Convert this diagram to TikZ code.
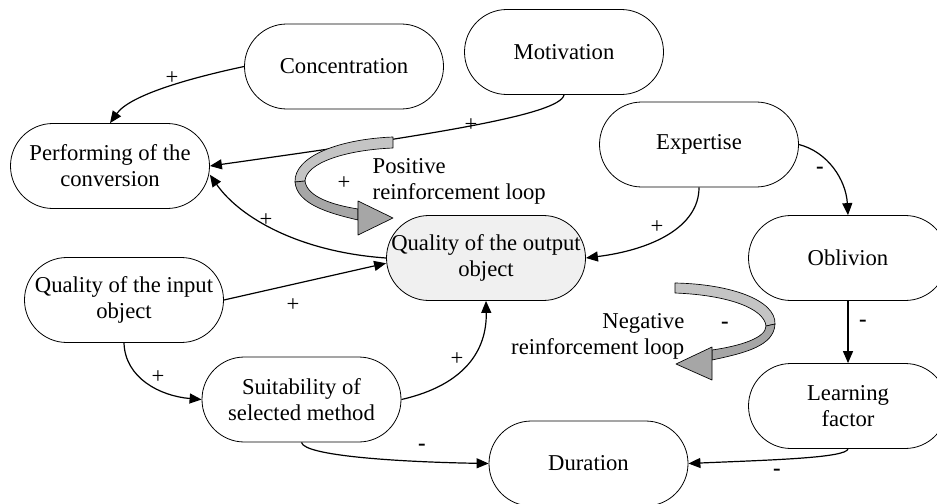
\documentclass[tikz,border=0pt]{standalone}
\usepackage{fontspec}
\setmainfont{Liberation Serif}
\usetikzlibrary{arrows.meta}
\definecolor{ribbonlight}{HTML}{C4C4C4}
\definecolor{ribbondark}{HTML}{A6A6A6}
\begin{document}
\begin{tikzpicture}[x=0.75pt,y=-0.75pt,
  factor/.style={draw,line width=0.6pt,rectangle,rounded corners=31.8pt,
    minimum width=149.25pt,minimum height=63.75pt,inner sep=1pt,align=center,
    font=\fontsize{17}{19.5}\selectfont},
  conn/.style={line width=0.9pt,-{Triangle[length=9pt,width=7.5pt]}},
  sign/.style={font=\fontsize{17}{19.5}\selectfont},
  ribbon/.style={draw,line width=0.5pt,line join=round}]
\useasboundingbox (0,0) rectangle (937,503);
\clip (0,0) rectangle (937,503);
\node[factor] (conc) at (344,66.5) {Concentration};
\node[factor] (motiv) at (564,52) {Motivation};
\node[factor] (perform) at (110,166) {Performing of the\\conversion};
\node[factor] (expert) at (699,144.5) {Expertise};
\node[factor] (oblivion) at (848,258) {Oblivion};
\node[factor,fill=gray!12] (outq) at (486,258) {Quality of the output\\object};
\node[factor] (inq) at (124,300) {Quality of the input\\object};
\node[factor] (suit) at (301.5,399.5) {Suitability of\\selected method};
\node[factor] (learn) at (848,406) {Learning\\factor};
\node[factor] (dur) at (588.5,463.5) {Duration};
\draw[conn] (conc.west) .. controls (190,78) and (130,95) .. (perform.north);
\draw[conn] (motiv.south) .. controls (560,115) and (430,135) .. (perform.east);
\draw[conn,{Triangle[length=9pt,width=7.5pt]}-] (perform.-5) .. controls (240,218) and (300,252) .. (outq.west);
\draw[conn] (inq.east) -- (outq.183);
\draw[conn] (expert.south) .. controls (699,228) and (650,250) .. (outq.east);
\draw[conn] (expert.east) .. controls (828,152) and (846,180) .. (oblivion.north);
\draw[conn] (oblivion.south) -- (learn.north);
\draw[conn] (learn.south) .. controls (846,458) and (770,460) .. (dur.east);
\draw[conn] (suit.south) .. controls (304,456) and (400,462) .. (dur.west);
\draw[conn] (inq.south) .. controls (125,378) and (160,396) .. (suit.west);
\draw[conn] (suit.east) .. controls (465,385) and (487,350) .. (outq.south);
\draw[ribbon,fill=ribbonlight] (393,137) .. controls (340,139) and (294,156) .. (295,182) -- (305,181) .. controls (306,163) and (345,150) .. (393,148) -- cycle;
\draw[ribbon,fill=ribbondark] (295,182) .. controls (297,204) and (328,213) .. (358,220) -- (358,209) .. controls (333,205) and (307,197) .. (305,181) -- cycle;
\draw[ribbon,fill=ribbondark] (358,201) -- (393,218) -- (358,235) -- cycle;
\draw[ribbon,fill=ribbonlight] (675,283) .. controls (730,284) and (776,300) .. (775,324) -- (766,326) .. controls (764,308) and (727,295) .. (675,293) -- cycle;
\draw[ribbon,fill=ribbondark] (775,324) .. controls (774,346) and (745,353) .. (712,360) -- (712,350) .. controls (740,346) and (766,338) .. (766,326) -- cycle;
\draw[ribbon,fill=ribbondark] (712,347) -- (676,364) -- (712,380) -- cycle;
\node[sign,anchor=west,align=left] (posnote) at (368,181) {Positive\\reinforcement loop};
\node[sign,anchor=east,align=right] (negnote) at (689,336) {Negative\\reinforcement loop};
\node[sign] at (172,78) {+};
\node[sign] at (471,125) {+};
\node[sign] at (344,183) {+};
\node[sign] at (266,220) {+};
\node[sign] at (293,305) {+};
\node[sign] at (657,227) {+};
\node[sign] at (158,377) {+};
\node[sign] at (457,359) {+};
\node[sign] at (820,170) {\textbf{-}};
\node[sign] at (863,323) {\textbf{-}};
\node[sign] at (725,325) {\textbf{-}};
\node[sign] at (422,447) {\textbf{-}};
\node[sign] at (777,472) {\textbf{-}};
\end{tikzpicture}
\end{document}
